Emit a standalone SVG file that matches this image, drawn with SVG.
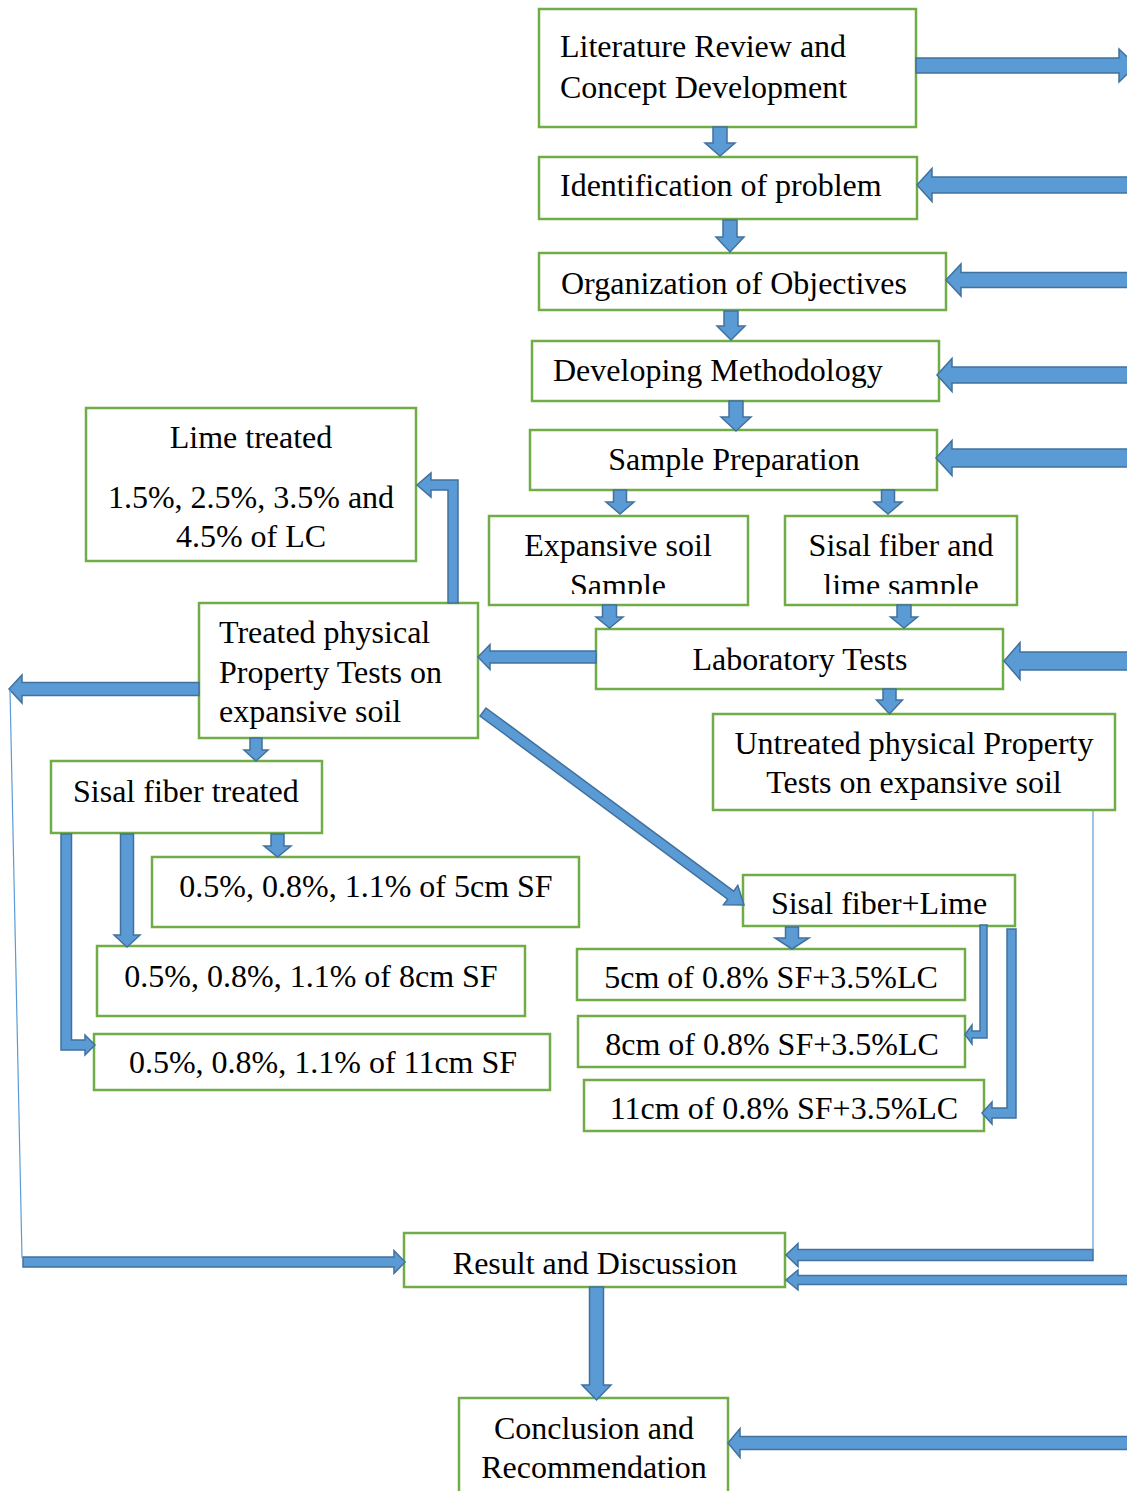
<svg xmlns="http://www.w3.org/2000/svg" width="1127" height="1491" viewBox="0 0 1127 1491">
<style>
.box{fill:#fff;stroke:#70AD47;stroke-width:2.5}
.t{font-family:"Liberation Serif","Times New Roman",serif;font-size:32px;fill:#000}
.c{text-anchor:middle}
.arr{fill:#5B9BD5;stroke:#41719C;stroke-width:1.5;stroke-linejoin:miter}
.thin{fill:none;stroke:#5B9BD5;stroke-width:1.2}
</style>
<defs>
<clipPath id="clipE"><rect x="489" y="516" width="259" height="78"/></clipPath>
<clipPath id="clipS"><rect x="785" y="516" width="232" height="78"/></clipPath>
</defs>
<rect width="1127" height="1491" fill="#fff"/>

<g id="n-literature"><rect class="box" x="539" y="9" width="377" height="118"/>
<text class="t" x="560" y="57">Literature Review and</text><text class="t" x="560" y="98">Concept Development</text></g>
<g id="n-identification"><rect class="box" x="539" y="157" width="378" height="62"/>
<text class="t" x="560" y="196">Identification of problem</text></g>
<g id="n-organization"><rect class="box" x="539" y="253" width="407" height="57"/>
<text class="t" x="561" y="294">Organization of Objectives</text></g>
<g id="n-developing"><rect class="box" x="532" y="341" width="407" height="60"/>
<text class="t" x="553" y="381">Developing Methodology</text></g>
<g id="n-sampleprep"><rect class="box" x="530" y="430" width="407" height="60"/>
<text class="t c" x="734" y="470">Sample Preparation</text></g>
<g id="n-expansive"><rect class="box" x="489" y="516" width="259" height="89"/>
<g clip-path="url(#clipE)"><text class="t c" x="618" y="556">Expansive soil</text><text class="t c" x="618" y="596">Sample</text></g></g>
<g id="n-sisal"><rect class="box" x="785" y="516" width="232" height="89"/>
<g clip-path="url(#clipS)"><text class="t c" x="901" y="556">Sisal fiber and</text><text class="t c" x="901" y="596">lime sample</text></g></g>
<g id="n-lab"><rect class="box" x="596" y="629" width="407" height="60"/>
<text class="t c" x="800" y="670">Laboratory Tests</text></g>
<g id="n-lime"><rect class="box" x="86" y="408" width="330" height="153"/>
<text class="t c" x="251" y="448">Lime treated</text><text class="t c" x="251" y="508">1.5%, 2.5%, 3.5% and</text><text class="t c" x="251" y="547">4.5% of LC</text></g>
<g id="n-treated"><rect class="box" x="199" y="603" width="279" height="135"/>
<text class="t" x="219" y="643">Treated physical</text><text class="t" x="219" y="683">Property Tests on</text><text class="t" x="219" y="722">expansive soil</text></g>
<g id="n-untreated"><rect class="box" x="713" y="714" width="402" height="96"/>
<text class="t c" x="914" y="754">Untreated physical Property</text><text class="t c" x="914" y="793">Tests on expansive soil</text></g>
<g id="n-sisaltreated"><rect class="box" x="51" y="761" width="271" height="72"/>
<text class="t" x="73" y="802">Sisal fiber treated</text></g>
<g id="n-sf5"><rect class="box" x="152" y="857" width="427" height="70"/>
<text class="t c" x="366" y="897">0.5%, 0.8%, 1.1% of 5cm SF</text></g>
<g id="n-sf8"><rect class="box" x="97" y="946" width="428" height="70"/>
<text class="t c" x="311" y="987">0.5%, 0.8%, 1.1% of 8cm SF</text></g>
<g id="n-sf11"><rect class="box" x="94" y="1034" width="456" height="56"/>
<text class="t c" x="323" y="1073">0.5%, 0.8%, 1.1% of 11cm SF</text></g>
<g id="n-sisallime"><rect class="box" x="743" y="875" width="272" height="51"/>
<text class="t c" x="879" y="914">Sisal fiber+Lime</text></g>
<g id="n-sl5"><rect class="box" x="577" y="949" width="388" height="51"/>
<text class="t c" x="771" y="988">5cm of 0.8% SF+3.5%LC</text></g>
<g id="n-sl8"><rect class="box" x="578" y="1016" width="387" height="51"/>
<text class="t c" x="772" y="1055">8cm of 0.8% SF+3.5%LC</text></g>
<g id="n-sl11"><rect class="box" x="584" y="1080" width="400" height="51"/>
<text class="t c" x="784" y="1119">11cm of 0.8% SF+3.5%LC</text></g>
<g id="n-result"><rect class="box" x="404" y="1233" width="381" height="54"/>
<text class="t c" x="595" y="1274">Result and Discussion</text></g>
<g id="n-conclusion"><rect class="box" x="459" y="1398" width="269" height="110"/>
<text class="t c" x="594" y="1439">Conclusion and</text><text class="t c" x="594" y="1478">Recommendation</text></g>

<g id="connectors">
<!-- down arrows -->
<polygon class="arr" points="713,127 727,127 727,143 735,143 720,156 705,143 713,143"/>
<polygon class="arr" points="723,220 737,220 737,237 744,237 730,252 716,237 723,237"/>
<polygon class="arr" points="724,311 738,311 738,326 745,326 731,340 717,326 724,326"/>
<polygon class="arr" points="729,401 743,401 743,417 751,417 736,431 721,417 729,417"/>
<polygon class="arr" points="613.5,490 626.5,490 626.5,502 634,502 620,514 606,502 613.5,502"/>
<polygon class="arr" points="881.5,490 894.5,490 894.5,502 902,502 888,514 874,502 881.5,502"/>
<polygon class="arr" points="602.5,605 616.5,605 616.5,617 623,617 609.5,628 596,617 602.5,617"/>
<polygon class="arr" points="897,605 911,605 911,617 917.5,617 904,628 890.5,617 897,617"/>
<polygon class="arr" points="883,689 896,689 896,700 902.5,700 889.5,714 876.5,700 883,700"/>
<polygon class="arr" points="250,738 262,738 262,750 268,750 256,761 244,750 250,750"/>
<polygon class="arr" points="271,834 284,834 284,846 291,846 277.5,857 264,846 271,846"/>
<polygon class="arr" points="120.5,834 133.5,834 133.5,935 140,935 127,947 114,935 120.5,935"/>
<polygon class="arr" points="785.5,927 798.5,927 798.5,938 809,938 792,949 775,938 785.5,938"/>
<polygon class="arr" points="589.5,1287 603.5,1287 603.5,1385 611,1385 596.5,1400 582,1385 589.5,1385"/>
<!-- left-pointing arrows from right edge -->
<polygon class="arr" points="1130,177 932,177 932,168.5 917,185 932,201.5 932,193 1130,193"/>
<polygon class="arr" points="1130,272.5 961,272.5 961,264 946,280 961,296 961,287.5 1130,287.5"/>
<polygon class="arr" points="1130,367 952,367 952,358.5 937,375 952,391.5 952,383 1130,383"/>
<polygon class="arr" points="1130,449 952,449 952,440.5 936,458 952,475.5 952,467 1130,467"/>
<polygon class="arr" points="1130,652 1020,652 1020,642.5 1004,661 1020,679.5 1020,670 1130,670"/>
<polygon class="arr" points="1130,1275.5 798,1275.5 798,1270 786,1280 798,1290 798,1284.5 1130,1284.5"/>
<polygon class="arr" points="1130,1436.5 740,1436.5 740,1428.5 728,1443 740,1457.5 740,1449.5 1130,1449.5"/>
<polygon class="arr" points="1093,1249.5 798,1249.5 798,1243.5 786,1255 798,1266.5 798,1260.5 1093,1260.5"/>
<polygon class="arr" points="596,651 490,651 490,644.5 478,657 490,669.5 490,663 596,663"/>
<polygon class="arr" points="199,682.5 22,682.5 22,675 9,689 22,703 22,695.5 199,695.5"/>
<!-- right-pointing arrows -->
<polygon class="arr" points="916,58 1119,58 1119,49 1136,65.5 1119,82 1119,73 916,73"/>
<polygon class="arr" points="23,1257 394,1257 394,1250.5 405,1262 394,1273.5 394,1267 23,1267"/>
<!-- bent arrows -->
<polygon class="arr" points="448,603 448,490 431,490 431,497 417,485 431,473 431,480 458,480 458,603"/>
<polygon class="arr" points="61,834 61,1050 85,1050 85,1055 95,1045 85,1035 85,1040 71.5,1040 71.5,834"/>
<polygon class="arr" points="987,925 987,1038 972,1038 972,1044 965,1034.5 972,1025 972,1031 980,1031 980,925"/>
<polygon class="arr" points="1016,929 1016,1118 992,1118 992,1124 982,1113 992,1102 992,1108 1007,1108 1007,929"/>
<!-- diagonal arrow -->
<g transform="translate(483,712) rotate(36.48)"><polygon class="arr" points="0,-5 308,-5 308,-12 324.6,0 308,12 308,5 0,5"/></g>
<!-- thin lines -->
<line class="thin" x1="10" y1="690" x2="22" y2="1258"/>
<line class="thin" x1="1093" y1="811" x2="1093" y2="1250"/>
</g>
</svg>
